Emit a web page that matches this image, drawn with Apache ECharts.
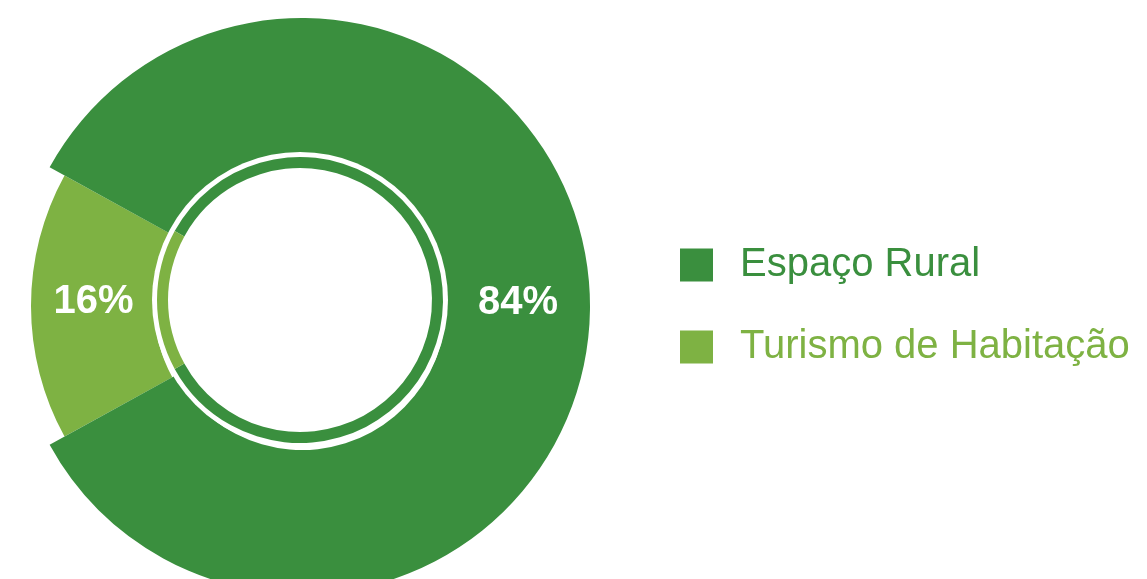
<!DOCTYPE html>
<html>
<head>
<meta charset="utf-8">
<script src="https://cdn.jsdelivr.net/npm/echarts@6/dist/echarts.min.js"></script>
<style>
  html, body { margin: 0; padding: 0; background: #ffffff; }
  #chart { width: 1147px; height: 579px; }
</style>
</head>
<body>
<div id="chart"></div>
<script>
// ---- data ----
const categories = ['Espaço Rural', 'Turismo de Habitação'];
const shares = [84, 16];
const sliceColors = ['#3a8f3e', '#7eb243'];

// ---- helpers ----
function seriesData(visibleIndex) {
  return categories.map(function (name, i) {
    const visible = (visibleIndex === null || visibleIndex === i);
    return {
      name: name,
      value: shares[i],
      itemStyle: { color: visible ? sliceColors[i] : 'rgba(0,0,0,0)', borderWidth: 0 },
      label: { show: visible }
    };
  });
}

function labelStyle(offset) {
  return {
    show: true,
    position: 'inside',
    color: '#ffffff',
    fontFamily: 'Liberation Sans, Arial, sans-serif',
    fontWeight: 'bold',
    fontSize: 40,
    offset: offset,
    formatter: function (p) { return p.value + '%'; }
  };
}

const startAngle = 151.2;
const chart = echarts.init(document.getElementById('chart'), null, { renderer: 'canvas' });

chart.setOption({
  animation: false,
  backgroundColor: '#ffffff',
  legend: {
    orient: 'vertical',
    left: 675,
    top: 237,
    itemWidth: 33,
    itemHeight: 33,
    itemGap: 36,
    icon: 'rect',
    selectedMode: false,
    textStyle: {
      fontFamily: 'Liberation Sans, Arial, sans-serif',
      fontSize: 40,
      lineHeight: 40,
      padding: [6, 0, 0, 22]
    },
    data: categories.map(function (name, i) {
      return {
        name: name,
        itemStyle: { color: sliceColors[i] },
        textStyle: { color: sliceColors[i] }
      };
    })
  },
  graphic: [{
    type: 'circle',
    z: 3,
    silent: true,
    shape: { cx: 300, cy: 300, r: 148 },
    style: { fill: '#ffffff' }
  }],
  series: [
    {
      // inner thin ring
      type: 'pie',
      z: 4,
      silent: true,
      center: [300, 300],
      radius: [132, 143],
      startAngle: startAngle,
      avoidLabelOverlap: false,
      itemStyle: { borderWidth: 0 },
      label: { show: false },
      labelLine: { show: false },
      emphasis: { disabled: true },
      data: seriesData(null).map(function (d) { d.label = { show: false }; return d; })
    },
    {
      // light slice
      type: 'pie',
      z: 1,
      silent: true,
      center: [302, 306],
      radius: [148, 271],
      startAngle: startAngle,
      avoidLabelOverlap: false,
      itemStyle: { borderWidth: 0 },
      label: labelStyle([4, -4]),
      labelLine: { show: false },
      emphasis: { disabled: true },
      data: seriesData(1)
    },
    {
      // dark slice
      type: 'pie',
      z: 2,
      silent: true,
      center: [302, 306],
      radius: [144, 288],
      startAngle: startAngle,
      avoidLabelOverlap: false,
      itemStyle: { borderWidth: 0 },
      label: labelStyle([-3, -3]),
      labelLine: { show: false },
      emphasis: { disabled: true },
      data: seriesData(0)
    }
  ]
});
</script>
</body>
</html>
